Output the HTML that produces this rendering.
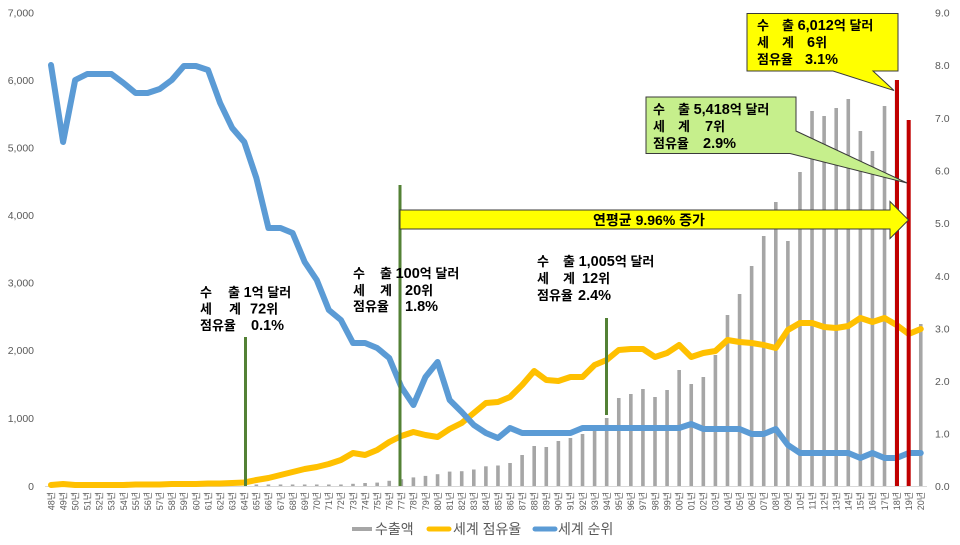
<!DOCTYPE html>
<html><head><meta charset="utf-8"><style>
html,body{margin:0;padding:0;background:#fff;}
svg{display:block;}
text{font-family:"Liberation Sans","Noto Sans CJK KR",sans-serif;}
.ax{font-size:10.5px;fill:#595959;}
.xl{font-size:9px;fill:#595959;}
.an{font-size:13px;font-weight:bold;fill:#000;}
.d{font-size:14.5px;}
.lg{font-size:14px;fill:#595959;}
</style></head><body>
<svg id="c" width="960" height="545" viewBox="0 0 960 545" xmlns="http://www.w3.org/2000/svg">
<rect width="960" height="545" fill="#fff"/>
<g id="leftAxis" class="ax" text-anchor="end">
<text x="34" y="16.5">7,000</text>
<text x="34" y="84">6,000</text>
<text x="34" y="151.5">5,000</text>
<text x="34" y="219">4,000</text>
<text x="34" y="286.5">3,000</text>
<text x="34" y="354">2,000</text>
<text x="34" y="422">1,000</text>
<text x="34" y="490">0</text>
</g>
<g id="rightAxis" class="ax" text-anchor="start">
<text x="935" y="16.5">9.0</text>
<text x="935" y="69">8.0</text>
<text x="935" y="122">7.0</text>
<text x="935" y="174.5">6.0</text>
<text x="935" y="227">5.0</text>
<text x="935" y="280">4.0</text>
<text x="935" y="332.5">3.0</text>
<text x="935" y="385">2.0</text>
<text x="935" y="437.5">1.0</text>
<text x="935" y="490">0.0</text>
</g>
<line x1="45" y1="486.5" x2="927" y2="486.5" stroke="#d9d9d9" stroke-width="1"/>
<g id="bars" fill="#a6a6a6"></g>
<g id="xlabels" class="xl"></g>
<polyline id="yl" fill="none" stroke="#ffc000" stroke-width="6" stroke-linejoin="round" stroke-linecap="round"/>
<polyline id="bl" fill="none" stroke="#5b9bd5" stroke-width="6" stroke-linejoin="round" stroke-linecap="round"/>
<!-- red bars -->
<rect x="895" y="80" width="4" height="406" fill="#c00000"/>
<rect x="906.7" y="120" width="4" height="366" fill="#c00000"/>
<!-- green lines -->
<line x1="245.5" y1="337" x2="245.5" y2="486" stroke="#538135" stroke-width="3"/>
<line x1="400" y1="185" x2="400" y2="486" stroke="#538135" stroke-width="3"/>
<line x1="606.5" y1="318" x2="606.5" y2="415" stroke="#538135" stroke-width="3"/>
<!-- arrow -->
<path d="M400,210 H890 V201.5 L908.5,220 L890,238.5 V229 H400 Z" fill="#ffff00" stroke="#3a3a3a" stroke-width="1"/>
<text x="649" y="225" text-anchor="middle" style="font-size:14px;font-weight:bold;">연평균 9.96% 증가</text>
<!-- callouts -->
<path d="M747,13.5 H898 V71 H873 L894,90.5 L833,71 H747 Z" fill="#ffff00" stroke="#3a3a3a" stroke-width="1"/>
<path d="M646,97 H796 V131 L907,183 L790,153.5 H646 Z" fill="#c6ef8c" stroke="#3a3a3a" stroke-width="1"/>
<g class="an">
<text x="757" y="30">수</text><text x="782" y="30">출 <tspan class="d">6,012</tspan>억 달러</text>
<text x="757" y="47">세</text><text x="782" y="47">계</text><text x="807" y="47"><tspan class="d">6</tspan>위</text>
<text x="757" y="64">점유율</text><text x="805" y="64" class="d">3.1%</text>

<text x="653" y="114">수</text><text x="678" y="114">출 <tspan class="d">5,418</tspan>억 달러</text>
<text x="653" y="131">세</text><text x="678" y="131">계</text><text x="705" y="131"><tspan class="d">7</tspan>위</text>
<text x="653" y="148">점유율</text><text x="703" y="148" class="d">2.9%</text>

<text x="200" y="297">수</text><text x="228" y="297">출 <tspan class="d">1</tspan>억 달러</text>
<text x="200" y="313.5">세</text><text x="229" y="313.5">계</text><text x="250" y="313.5"><tspan class="d">72</tspan>위</text>
<text x="200" y="330">점유율</text><text x="251" y="330" class="d">0.1%</text>

<text x="353" y="278">수</text><text x="380" y="278">출 <tspan class="d">100</tspan>억 달러</text>
<text x="353" y="295">세</text><text x="380" y="295">계</text><text x="405" y="295"><tspan class="d">20</tspan>위</text>
<text x="353" y="311">점유율</text><text x="405" y="311" class="d">1.8%</text>

<text x="537" y="266">수</text><text x="563" y="266">출 <tspan class="d">1,005</tspan>억 달러</text>
<text x="537" y="283">세</text><text x="563" y="283">계</text><text x="582" y="283"><tspan class="d">12</tspan>위</text>
<text x="537" y="300">점유율</text><text x="578" y="300" class="d">2.4%</text>
</g>
<!-- legend -->
<line x1="352" y1="529" x2="372" y2="529" stroke="#a6a6a6" stroke-width="4"/>
<text class="lg" x="375" y="534">수출액</text>
<line x1="429" y1="529" x2="449" y2="529" stroke="#ffc000" stroke-width="5" stroke-linecap="round"/>
<text class="lg" x="453" y="534">세계 점유율</text>
<line x1="535" y1="529" x2="555" y2="529" stroke="#5b9bd5" stroke-width="5" stroke-linecap="round"/>
<text class="lg" x="558" y="534">세계 순위</text>
</svg>
<script>
(function(){
var NS="http://www.w3.org/2000/svg";
function X(i){return 51+12.08*i;}
var tops=[486,486,486,486,486,486,486,486,486,486,486,486,486,486,486,486,
485.9,485.9,485.8,485.8,485.7,485.6,485.4,485.3,484.9,483.8,483,482.6,480.8,479.2,
477.4,475.9,474.2,471.6,471.2,469.5,466.3,465.5,463,455,446,447,441,438,434,427,418,
398,394,389,397,390,370,384,377,355,315,294,266,236,202,241,172,111,116,108,99,131,151,106,80,120,324];
var bars=document.getElementById("bars");
for(var i=0;i<73;i++){
  var t=tops[i]; var h=486-t;
  if(i>=17&&h<1.5){h=1.5;t=486-h;}
  if(h>0.3){
    var r=document.createElementNS(NS,"rect");
    r.setAttribute("x",(X(i)-1.8).toFixed(2));r.setAttribute("y",t);
    r.setAttribute("width","3.6");r.setAttribute("height",h);
    bars.appendChild(r);
  }
}
var xl=document.getElementById("xlabels");
for(var i=0;i<73;i++){
  var yr=(48+i)%100; var s=(yr<10?"0":"")+yr+"년";
  var tx=document.createElementNS(NS,"text");
  tx.setAttribute("transform","translate("+(X(i)+3.3).toFixed(2)+",492) rotate(-90)");
  tx.setAttribute("text-anchor","end");
  tx.textContent=s; xl.appendChild(tx);
}
var yv=[485,484,485,485,485,485,485,484.5,484.5,484.5,484,484,484,483.5,483.5,483,482.5,
480,478,475,472,469,467,464,460,453,455,450,442,436,432,435,437,429,423,413,403,402,397,
385,371,380,381,377,377,365,360,350,349,349,357,353,345,357,353,351,340,342,343,345,348,
330,323,323,327,328,326,318,322,318,325,334,329];
var bv=[65,142,80,74,74,74,83,93,93,89,80,66,66,70,103,128,142,178,228,228,233,262,280,
310,320,343,343,348,358,387,405,377,362,400,412,425,433,438,428,433,433,433,433,433,428,
428,428,428,428,428,428,428,428,424,429,429,429,429,434,434,429,445,453,453,453,453,453,
458,453,458,458,453,453];
function pts(a){var s=[];for(var i=0;i<a.length;i++)s.push(X(i).toFixed(2)+","+a[i]);return s.join(" ");}
document.getElementById("yl").setAttribute("points",pts(yv));
document.getElementById("bl").setAttribute("points",pts(bv));
})();
</script>
</body></html>
